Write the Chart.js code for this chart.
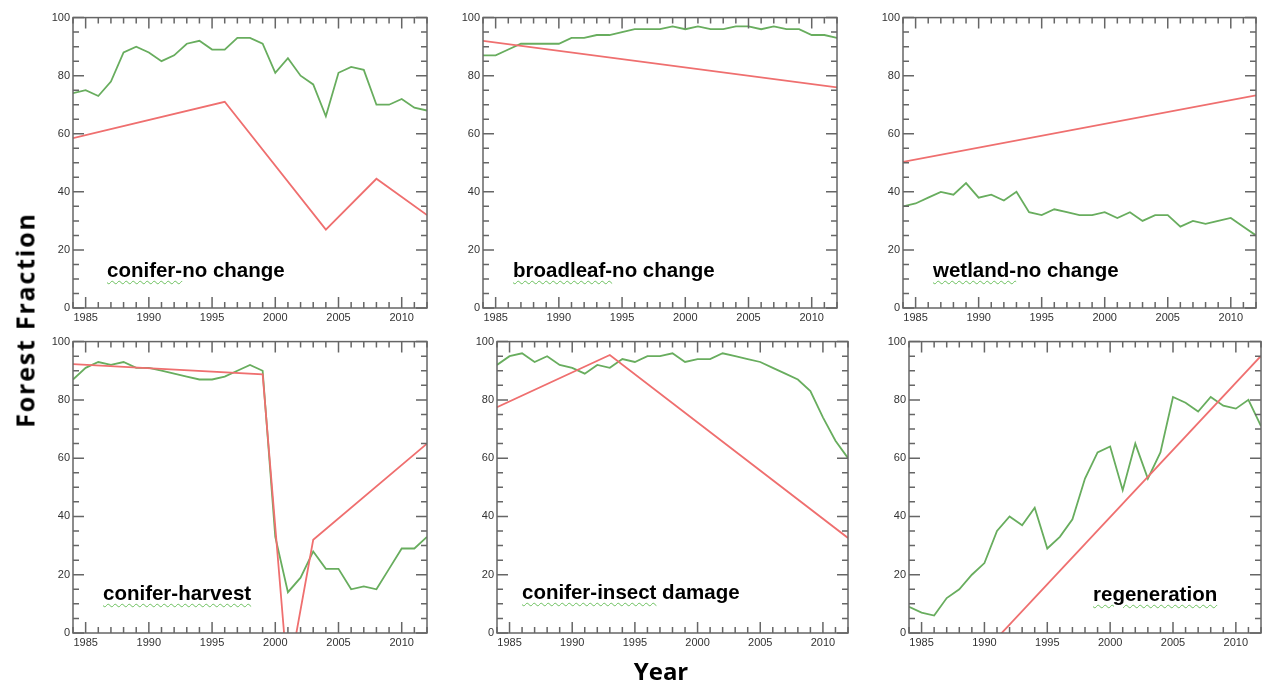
<!DOCTYPE html>
<html lang="en">
<head>
    <meta charset="UTF-8">
    <title>Forest Fraction</title>
    <style>
        body {
            margin: 0;
            background: #fff;
            width: 1263px;
            height: 685px;
            position: relative;
            overflow: hidden;
            font-family: "Liberation Sans", Arial, sans-serif;
        }
        canvas {
            position: absolute;
        }
        .label {
            position: absolute;
            font-weight: bold;
            font-size: 20.5px;
            line-height: 1;
            color: #000;
            white-space: nowrap;
        }
        .squig {
            text-decoration: underline wavy #6cc05e;
            text-decoration-thickness: 1px;
            text-underline-offset: 3px;
        }
        .title {
            position: absolute;
            font-family: "Open Sans", sans-serif;
            font-weight: bold;
            font-size: 24px;
            line-height: 1;
            color: #000;
            white-space: nowrap;
        }
    </style>
    <script src="https://cdn.jsdelivr.net/npm/chart.js"></script>
</head>
<body>
    <canvas id="p1" width="397" height="322" style="left:33px;top:8px"></canvas>
    <canvas id="p2" width="397" height="322" style="left:443px;top:8px"></canvas>
    <canvas id="p3" width="396" height="322" style="left:863px;top:8px"></canvas>
    <canvas id="p4" width="397" height="323" style="left:33px;top:332px"></canvas>
    <canvas id="p5" width="394" height="323" style="left:457px;top:332px"></canvas>
    <canvas id="p6" width="395" height="323" style="left:869px;top:332px"></canvas>

    <div class="label" style="left:107px;top:260px"><span class="squig">conifer-</span>no change</div>
    <div class="label" style="left:513px;top:260px"><span class="squig">broadleaf-</span>no change</div>
    <div class="label" style="left:933px;top:260px"><span class="squig">wetland-</span>no change</div>
    <div class="label" style="left:103px;top:583px"><span class="squig">conifer-harvest</span></div>
    <div class="label" style="left:522px;top:582px"><span class="squig">conifer-insect</span> damage</div>
    <div class="label" style="left:1093px;top:584px"><span class="squig">regeneration</span></div>

    <div class="title" style="left:25px;top:320px;font-size:25px;letter-spacing:1.8px;transform:translate(-50%,-50%) rotate(-90deg)">Forest Fraction</div>
    <div class="title" style="left:661px;top:671px;transform:translate(-50%,-50%)">Year</div>

    <script>
        // years on the x axis
        var years = [1984, 1985, 1986, 1987, 1988, 1989, 1990, 1991, 1992, 1993,
                     1994, 1995, 1996, 1997, 1998, 1999, 2000, 2001, 2002, 2003,
                     2004, 2005, 2006, 2007, 2008, 2009, 2010, 2011, 2012];
        var yearTicks = [1985, 1990, 1995, 2000, 2005, 2010];
        var fractionTicks = [0, 20, 40, 60, 80, 100];

        // green = observed fraction, red = fitted segments (vertices only)
        var coniferNoChange = [74, 75, 73, 78, 88, 90, 88, 85, 87, 91, 92, 89, 89, 93, 93,
                               91, 81, 86, 80, 77, 66, 81, 83, 82, 70, 70, 72, 69, 68];
        var coniferNoChangeFitYears = [1984, 1996, 2004, 2008, 2012];
        var coniferNoChangeFit = [58.5, 71, 27, 44.5, 32];

        var broadleafNoChange = [87, 87, 89, 91, 91, 91, 91, 93, 93, 94, 94, 95, 96, 96, 96,
                                 97, 96, 97, 96, 96, 97, 97, 96, 97, 96, 96, 94, 94, 93];
        var broadleafNoChangeFitYears = [1984, 2012];
        var broadleafNoChangeFit = [92, 76];

        var wetlandNoChange = [35, 36, 38, 40, 39, 43, 38, 39, 37, 40, 33, 32, 34, 33, 32,
                               32, 33, 31, 33, 30, 32, 32, 28, 30, 29, 30, 31, 28, 25];
        var wetlandNoChangeFitYears = [1984, 2012];
        var wetlandNoChangeFit = [50.3, 73.2];

        var coniferHarvest = [87, 91, 93, 92, 93, 91, 91, 90, 89, 88, 87, 87, 88, 90, 92,
                              90, 33, 14, 19, 28, 22, 22, 15, 16, 15, 22, 29, 29, 33];
        var coniferHarvestFitYears = [1984, 1999, 2001, 2003, 2012];
        var coniferHarvestFit = [92.3, 88.8, -16, 32, 65];

        var coniferInsect = [92, 95, 96, 93, 95, 92, 91, 89, 92, 91, 94, 93, 95, 95, 96,
                             93, 94, 94, 96, 95, 94, 93, 91, 89, 87, 83, 74, 66, 60];
        var coniferInsectFitYears = [1984, 1993, 2012];
        var coniferInsectFit = [77.5, 95.4, 32.6];

        var regeneration = [9, 7, 6, 12, 15, 20, 24, 35, 40, 37, 43, 29, 33, 39, 53,
                            62, 64, 49, 65, 53, 62, 81, 79, 76, 81, 78, 77, 80, 71];
        var regenerationFitYears = [1984, 2012];
        var regenerationFit = [-34, 95.1];

        var green = '#68ad5e';
        var red = '#ef6f6f';

        var boxTicks = {
            id: 'boxTicks',
            afterDatasetsDraw: function(chart) {
                var ctx = chart.ctx;
                var a = chart.chartArea;
                var xs = chart.scales.x;
                var ys = chart.scales.y;
                ctx.save();
                ctx.strokeStyle = '#666';
                ctx.lineWidth = 1.5;
                ctx.strokeRect(a.left, a.top, a.right - a.left, a.bottom - a.top);
                ctx.beginPath();
                for (var yr = xs.min; yr <= xs.max; yr++) {
                    var px = xs.getPixelForValue(yr);
                    var len = yr % 5 === 0 ? 11 : 6;
                    ctx.moveTo(px, a.bottom);
                    ctx.lineTo(px, a.bottom - len);
                    ctx.moveTo(px, a.top);
                    ctx.lineTo(px, a.top + len);
                }
                for (var v = ys.min; v <= ys.max; v += 5) {
                    var py = ys.getPixelForValue(v);
                    var len2 = v % 20 === 0 ? 11 : 6;
                    ctx.moveTo(a.left, py);
                    ctx.lineTo(a.left + len2, py);
                    ctx.moveTo(a.right, py);
                    ctx.lineTo(a.right - len2, py);
                }
                ctx.stroke();
                ctx.restore();
            }
        };

        function points(xs, ys) {
            var out = [];
            for (var i = 0; i < xs.length; i++) out.push({ x: xs[i], y: ys[i] });
            return out;
        }

        var tickFont = { family: '"Liberation Sans", Arial, sans-serif', size: 11 };

        function makePanel(id, observed, fitYears, fit) {
            new Chart(document.getElementById(id), {
                type: 'line',
                data: {
                    datasets: [
                        { data: points(fitYears, fit), borderColor: red, borderWidth: 1.8,
                          pointRadius: 0, tension: 0, fill: false },
                        { data: points(years, observed), borderColor: green, borderWidth: 1.8,
                          pointRadius: 0, tension: 0, fill: false }
                    ]
                },
                options: {
                    responsive: false,
                    animation: false,
                    events: [],
                    layout: { padding: { top: 8, right: 3, left: 0, bottom: 0 } },
                    plugins: { legend: { display: false }, tooltip: { enabled: false } },
                    scales: {
                        x: {
                            type: 'linear',
                            min: 1984,
                            max: 2012,
                            afterBuildTicks: function(s) { s.ticks = yearTicks.map(function(v) { return { value: v }; }); },
                            afterFit: function(s) { s.height = 22; },
                            grid: { display: false, drawTicks: false },
                            border: { display: false },
                            ticks: { font: tickFont, color: '#333', padding: 3, maxRotation: 0, autoSkip: false,
                                     callback: function(v) { return String(v); } }
                        },
                        y: {
                            min: 0,
                            max: 100,
                            afterBuildTicks: function(s) { s.ticks = fractionTicks.map(function(v) { return { value: v }; }); },
                            afterFit: function(s) { s.width = 40; },
                            grid: { display: false, drawTicks: false },
                            border: { display: false },
                            ticks: { font: tickFont, color: '#333', padding: 3 }
                        }
                    }
                },
                plugins: [boxTicks]
            });
        }

        makePanel('p1', coniferNoChange, coniferNoChangeFitYears, coniferNoChangeFit);
        makePanel('p2', broadleafNoChange, broadleafNoChangeFitYears, broadleafNoChangeFit);
        makePanel('p3', wetlandNoChange, wetlandNoChangeFitYears, wetlandNoChangeFit);
        makePanel('p4', coniferHarvest, coniferHarvestFitYears, coniferHarvestFit);
        makePanel('p5', coniferInsect, coniferInsectFitYears, coniferInsectFit);
        makePanel('p6', regeneration, regenerationFitYears, regenerationFit);
    </script>
</body>
</html>
